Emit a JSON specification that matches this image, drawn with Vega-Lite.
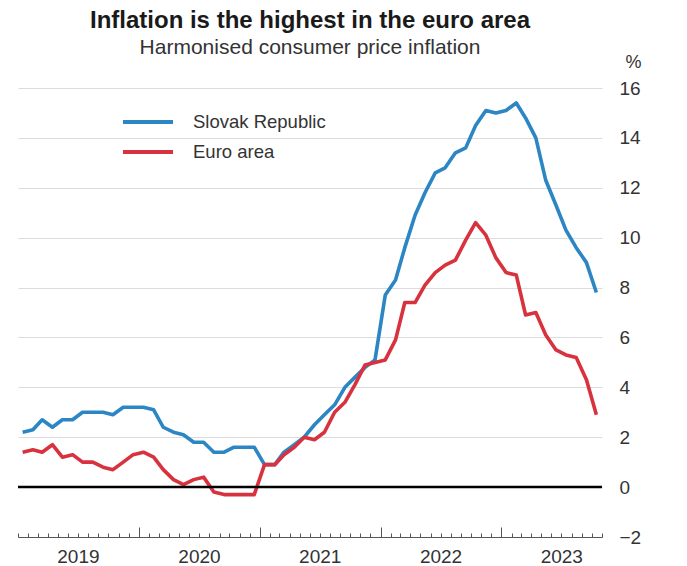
{
  "$schema": "https://vega.github.io/schema/vega-lite/v6.json",
  "width": 584,
  "height": 449,
  "autosize": {"type": "none"},
  "padding": {"left": 18, "top": 88, "right": 85, "bottom": 29},
  "background": "white",
  "config": {
    "font": "Liberation Sans",
    "view": {"stroke": null}
  },
  "title": {
    "text": "Inflation is the highest in the euro area",
    "subtitle": "Harmonised consumer price inflation",
    "anchor": "middle",
    "fontSize": 24,
    "fontWeight": "bold",
    "color": "#1a1a1a",
    "subtitleFontSize": 21,
    "subtitleColor": "#333333",
    "subtitlePadding": 4,
    "offset": -5
  },
  "resolve": {"axis": {"x": "independent"}},
  "datasets": {
    "hicp": [
      {"date": "2019-01-15", "country": "Slovak Republic", "value": 2.2},
      {"date": "2019-02-15", "country": "Slovak Republic", "value": 2.3},
      {"date": "2019-03-15", "country": "Slovak Republic", "value": 2.7},
      {"date": "2019-04-15", "country": "Slovak Republic", "value": 2.4},
      {"date": "2019-05-15", "country": "Slovak Republic", "value": 2.7},
      {"date": "2019-06-15", "country": "Slovak Republic", "value": 2.7},
      {"date": "2019-07-15", "country": "Slovak Republic", "value": 3.0},
      {"date": "2019-08-15", "country": "Slovak Republic", "value": 3.0},
      {"date": "2019-09-15", "country": "Slovak Republic", "value": 3.0},
      {"date": "2019-10-15", "country": "Slovak Republic", "value": 2.9},
      {"date": "2019-11-15", "country": "Slovak Republic", "value": 3.2},
      {"date": "2019-12-15", "country": "Slovak Republic", "value": 3.2},
      {"date": "2020-01-15", "country": "Slovak Republic", "value": 3.2},
      {"date": "2020-02-15", "country": "Slovak Republic", "value": 3.1},
      {"date": "2020-03-15", "country": "Slovak Republic", "value": 2.4},
      {"date": "2020-04-15", "country": "Slovak Republic", "value": 2.2},
      {"date": "2020-05-15", "country": "Slovak Republic", "value": 2.1},
      {"date": "2020-06-15", "country": "Slovak Republic", "value": 1.8},
      {"date": "2020-07-15", "country": "Slovak Republic", "value": 1.8},
      {"date": "2020-08-15", "country": "Slovak Republic", "value": 1.4},
      {"date": "2020-09-15", "country": "Slovak Republic", "value": 1.4},
      {"date": "2020-10-15", "country": "Slovak Republic", "value": 1.6},
      {"date": "2020-11-15", "country": "Slovak Republic", "value": 1.6},
      {"date": "2020-12-15", "country": "Slovak Republic", "value": 1.6},
      {"date": "2021-01-15", "country": "Slovak Republic", "value": 0.9},
      {"date": "2021-02-15", "country": "Slovak Republic", "value": 0.9},
      {"date": "2021-03-15", "country": "Slovak Republic", "value": 1.4},
      {"date": "2021-04-15", "country": "Slovak Republic", "value": 1.7},
      {"date": "2021-05-15", "country": "Slovak Republic", "value": 2.0},
      {"date": "2021-06-15", "country": "Slovak Republic", "value": 2.5},
      {"date": "2021-07-15", "country": "Slovak Republic", "value": 2.9},
      {"date": "2021-08-15", "country": "Slovak Republic", "value": 3.3},
      {"date": "2021-09-15", "country": "Slovak Republic", "value": 4.0},
      {"date": "2021-10-15", "country": "Slovak Republic", "value": 4.4},
      {"date": "2021-11-15", "country": "Slovak Republic", "value": 4.8},
      {"date": "2021-12-15", "country": "Slovak Republic", "value": 5.1},
      {"date": "2022-01-15", "country": "Slovak Republic", "value": 7.7},
      {"date": "2022-02-15", "country": "Slovak Republic", "value": 8.3},
      {"date": "2022-03-15", "country": "Slovak Republic", "value": 9.6},
      {"date": "2022-04-15", "country": "Slovak Republic", "value": 10.9},
      {"date": "2022-05-15", "country": "Slovak Republic", "value": 11.8},
      {"date": "2022-06-15", "country": "Slovak Republic", "value": 12.6},
      {"date": "2022-07-15", "country": "Slovak Republic", "value": 12.8},
      {"date": "2022-08-15", "country": "Slovak Republic", "value": 13.4},
      {"date": "2022-09-15", "country": "Slovak Republic", "value": 13.6},
      {"date": "2022-10-15", "country": "Slovak Republic", "value": 14.5},
      {"date": "2022-11-15", "country": "Slovak Republic", "value": 15.1},
      {"date": "2022-12-15", "country": "Slovak Republic", "value": 15.0},
      {"date": "2023-01-15", "country": "Slovak Republic", "value": 15.1},
      {"date": "2023-02-15", "country": "Slovak Republic", "value": 15.4},
      {"date": "2023-03-15", "country": "Slovak Republic", "value": 14.8},
      {"date": "2023-04-15", "country": "Slovak Republic", "value": 14.0},
      {"date": "2023-05-15", "country": "Slovak Republic", "value": 12.3},
      {"date": "2023-06-15", "country": "Slovak Republic", "value": 11.3},
      {"date": "2023-07-15", "country": "Slovak Republic", "value": 10.3},
      {"date": "2023-08-15", "country": "Slovak Republic", "value": 9.6},
      {"date": "2023-09-15", "country": "Slovak Republic", "value": 9.0},
      {"date": "2023-10-15", "country": "Slovak Republic", "value": 7.8},
      {"date": "2019-01-15", "country": "Euro area", "value": 1.4},
      {"date": "2019-02-15", "country": "Euro area", "value": 1.5},
      {"date": "2019-03-15", "country": "Euro area", "value": 1.4},
      {"date": "2019-04-15", "country": "Euro area", "value": 1.7},
      {"date": "2019-05-15", "country": "Euro area", "value": 1.2},
      {"date": "2019-06-15", "country": "Euro area", "value": 1.3},
      {"date": "2019-07-15", "country": "Euro area", "value": 1.0},
      {"date": "2019-08-15", "country": "Euro area", "value": 1.0},
      {"date": "2019-09-15", "country": "Euro area", "value": 0.8},
      {"date": "2019-10-15", "country": "Euro area", "value": 0.7},
      {"date": "2019-11-15", "country": "Euro area", "value": 1.0},
      {"date": "2019-12-15", "country": "Euro area", "value": 1.3},
      {"date": "2020-01-15", "country": "Euro area", "value": 1.4},
      {"date": "2020-02-15", "country": "Euro area", "value": 1.2},
      {"date": "2020-03-15", "country": "Euro area", "value": 0.7},
      {"date": "2020-04-15", "country": "Euro area", "value": 0.3},
      {"date": "2020-05-15", "country": "Euro area", "value": 0.1},
      {"date": "2020-06-15", "country": "Euro area", "value": 0.3},
      {"date": "2020-07-15", "country": "Euro area", "value": 0.4},
      {"date": "2020-08-15", "country": "Euro area", "value": -0.2},
      {"date": "2020-09-15", "country": "Euro area", "value": -0.3},
      {"date": "2020-10-15", "country": "Euro area", "value": -0.3},
      {"date": "2020-11-15", "country": "Euro area", "value": -0.3},
      {"date": "2020-12-15", "country": "Euro area", "value": -0.3},
      {"date": "2021-01-15", "country": "Euro area", "value": 0.9},
      {"date": "2021-02-15", "country": "Euro area", "value": 0.9},
      {"date": "2021-03-15", "country": "Euro area", "value": 1.3},
      {"date": "2021-04-15", "country": "Euro area", "value": 1.6},
      {"date": "2021-05-15", "country": "Euro area", "value": 2.0},
      {"date": "2021-06-15", "country": "Euro area", "value": 1.9},
      {"date": "2021-07-15", "country": "Euro area", "value": 2.2},
      {"date": "2021-08-15", "country": "Euro area", "value": 3.0},
      {"date": "2021-09-15", "country": "Euro area", "value": 3.4},
      {"date": "2021-10-15", "country": "Euro area", "value": 4.1},
      {"date": "2021-11-15", "country": "Euro area", "value": 4.9},
      {"date": "2021-12-15", "country": "Euro area", "value": 5.0},
      {"date": "2022-01-15", "country": "Euro area", "value": 5.1},
      {"date": "2022-02-15", "country": "Euro area", "value": 5.9},
      {"date": "2022-03-15", "country": "Euro area", "value": 7.4},
      {"date": "2022-04-15", "country": "Euro area", "value": 7.4},
      {"date": "2022-05-15", "country": "Euro area", "value": 8.1},
      {"date": "2022-06-15", "country": "Euro area", "value": 8.6},
      {"date": "2022-07-15", "country": "Euro area", "value": 8.9},
      {"date": "2022-08-15", "country": "Euro area", "value": 9.1},
      {"date": "2022-09-15", "country": "Euro area", "value": 9.9},
      {"date": "2022-10-15", "country": "Euro area", "value": 10.6},
      {"date": "2022-11-15", "country": "Euro area", "value": 10.1},
      {"date": "2022-12-15", "country": "Euro area", "value": 9.2},
      {"date": "2023-01-15", "country": "Euro area", "value": 8.6},
      {"date": "2023-02-15", "country": "Euro area", "value": 8.5},
      {"date": "2023-03-15", "country": "Euro area", "value": 6.9},
      {"date": "2023-04-15", "country": "Euro area", "value": 7.0},
      {"date": "2023-05-15", "country": "Euro area", "value": 6.1},
      {"date": "2023-06-15", "country": "Euro area", "value": 5.5},
      {"date": "2023-07-15", "country": "Euro area", "value": 5.3},
      {"date": "2023-08-15", "country": "Euro area", "value": 5.2},
      {"date": "2023-09-15", "country": "Euro area", "value": 4.3},
      {"date": "2023-10-15", "country": "Euro area", "value": 2.9}
    ]
  },
  "layer": [
    {
      "data": {"name": "hicp"},
      "mark": {"type": "line", "strokeWidth": 3.6, "strokeJoin": "round", "strokeCap": "butt"},
      "encoding": {
        "x": {
          "field": "date",
          "type": "temporal",
          "scale": {"type": "utc", "domain": ["2019-01-01", "2023-11-01"]},
          "axis": {
            "orient": "bottom",
            "title": null,
            "grid": false,
            "domain": true,
            "domainColor": "#555555",
            "domainWidth": 1.2,
            "tickCount": {"interval": "month", "step": 1},
            "tickColor": "#555555",
            "tickWidth": 1,
            "tickSize": -4,
            "labelExpr": "utcmonth(datum.value) == 6 ? utcFormat(datum.value, '%Y') : ''",
            "labelFontSize": 19,
            "labelColor": "#333333",
            "labelPadding": 14,
            "labelFlush": false,
            "labelOverlap": false,
            "labelBound": false
          }
        },
        "y": {
          "field": "value",
          "type": "quantitative",
          "scale": {"domain": [-2, 16], "nice": false, "zero": false},
          "axis": {
            "orient": "right",
            "values": [-2, 0, 2, 4, 6, 8, 10, 12, 14, 16],
            "domain": false,
            "ticks": false,
            "grid": true,
            "gridColor": "#dcdcdc",
            "gridWidth": 1,
            "labelFontSize": 19,
            "labelColor": "#333333",
            "labelAlign": "left",
            "labelPadding": 17,
            "title": "%",
            "titleAngle": 0,
            "titleFontSize": 18,
            "titleFontWeight": "normal",
            "titleColor": "#333333",
            "titleAlign": "center",
            "titleBaseline": "middle",
            "titleX": 31,
            "titleY": -26
          }
        },
        "color": {
          "field": "country",
          "type": "nominal",
          "scale": {"domain": ["Slovak Republic", "Euro area"], "range": ["#2b86c3", "#d8323f"]},
          "legend": {
            "title": null,
            "orient": "none",
            "legendX": 103,
            "legendY": 19,
            "symbolType": "stroke",
            "symbolSize": 2500,
            "symbolStrokeWidth": 4,
            "clipHeight": 30,
            "labelFontSize": 18.5,
            "labelColor": "#333333",
            "labelOffset": 18,
            "rowPadding": 0
          }
        }
      }
    },
    {
      "data": {"values": [{"from": "2019-01-01", "to": "2023-11-01", "level": 0}]},
      "mark": {"type": "rule", "color": "#000000", "strokeWidth": 2.5},
      "encoding": {
        "x": {
          "field": "from",
          "type": "temporal",
          "axis": {
            "orient": "bottom",
            "title": null,
            "grid": false,
            "domain": false,
            "labels": false,
            "values": [
              {"year": 2020, "month": 1, "date": 1, "utc": true},
              {"year": 2021, "month": 1, "date": 1, "utc": true},
              {"year": 2022, "month": 1, "date": 1, "utc": true},
              {"year": 2023, "month": 1, "date": 1, "utc": true}
            ],
            "tickColor": "#555555",
            "tickWidth": 1,
            "tickSize": -10
          }
        },
        "x2": {"field": "to"},
        "y": {"field": "level", "type": "quantitative"}
      }
    }
  ]
}
